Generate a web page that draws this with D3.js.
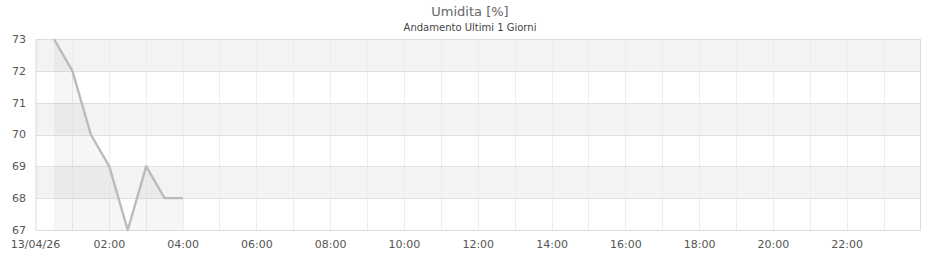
<!DOCTYPE html>
<html><head><meta charset="utf-8">
<script src="https://cdn.jsdelivr.net/npm/d3@7"></script>
<style>body{margin:0;background:#fff}svg{display:block;font-family:"DejaVu Sans",sans-serif}</style>
</head><body><svg id="c" width="940" height="260"></svg>
<script>
const title = "Umidita [%]";
const subtitle = "Andamento Ultimi 1 Giorni";
const times = ["00:30","01:00","01:30","02:00","02:30","03:00","03:30","04:00"];
const values = [73,72,70,69,67,69,68,68];
const yTicks = [67,68,69,70,71,72,73];
const xTickLabels = ["13/04/26","02:00","04:00","06:00","08:00","10:00","12:00","14:00","16:00","18:00","20:00","22:00"];

const parse = s => { const [h,m] = s.split(":").map(Number); return h + m/60; };
const svg = d3.select("#c");
const m = {l:35.5, r:921, t:39, b:230};
const x = d3.scaleLinear().domain([0,24]).range([m.l, m.r]);
const y = d3.scaleLinear().domain([67,73]).range([m.b, m.t]);

// bands
const g = svg.append("g");
for (let i = 0; i < yTicks.length-1; i++) {
  const lo = yTicks[i], hi = yTicks[i+1];
  const idx = yTicks.length-2-i;
  g.append("rect").attr("x", m.l).attr("width", m.r-m.l)
   .attr("y", y(hi)).attr("height", y(lo)-y(hi))
   .attr("fill", idx % 2 === 0 ? "#f3f3f3" : "#ffffff");
}
// vertical grid hourly
g.selectAll("line.v").data(d3.range(1,24)).join("line")
  .attr("x1", d=>x(d)).attr("x2", d=>x(d)).attr("y1", m.t).attr("y2", m.b)
  .attr("stroke", "#ececf8").attr("stroke-width", 1).attr("shape-rendering","crispEdges");
// horizontal grid
g.selectAll("line.h").data(yTicks).join("line")
  .attr("x1", m.l).attr("x2", m.r).attr("y1", d=>Math.round(y(d))+0.5).attr("y2", d=>Math.round(y(d))+0.5)
  .attr("stroke", "#e0e0e0").attr("stroke-width", 1);

const pts = times.map((t,i)=>[parse(t), values[i]]);
// area
svg.append("path").datum(pts)
  .attr("d", d3.area().x(d=>x(d[0])).y0(y(67)).y1(d=>y(d[1])))
  .attr("fill", "rgba(0,0,0,0.035)");
// border
svg.append("rect").attr("x", m.l+0.5).attr("y", m.t+0.5).attr("width", m.r-m.l-1).attr("height", m.b-m.t)
  .attr("fill","none").attr("stroke","#dcdcdc");
// line
svg.append("path").datum(pts)
  .attr("d", d3.line().x(d=>x(d[0])).y(d=>y(d[1])))
  .attr("fill","none").attr("stroke","#bbbbbb").attr("stroke-width",2.4).attr("stroke-linejoin","round");

// y labels
svg.selectAll("text.y").data(yTicks).join("text")
  .attr("x", 26).attr("y", d=>y(d)).attr("dy","0.35em").attr("text-anchor","end")
  .attr("font-size", 11).attr("fill","#555").text(d=>d);
// x labels
svg.selectAll("text.x").data(xTickLabels).join("text")
  .attr("x", (d,i)=>x(i*2)).attr("y", 248).attr("text-anchor","middle")
  .attr("font-size", 11).attr("fill","#555").text(d=>d);
// titles
svg.append("text").attr("x",470).attr("y",16).attr("text-anchor","middle")
  .attr("font-size",13).attr("fill","#666").text(title);
svg.append("text").attr("x",470).attr("y",31).attr("text-anchor","middle")
  .attr("font-size",10).attr("fill","#444").text(subtitle);
</script></body></html>
